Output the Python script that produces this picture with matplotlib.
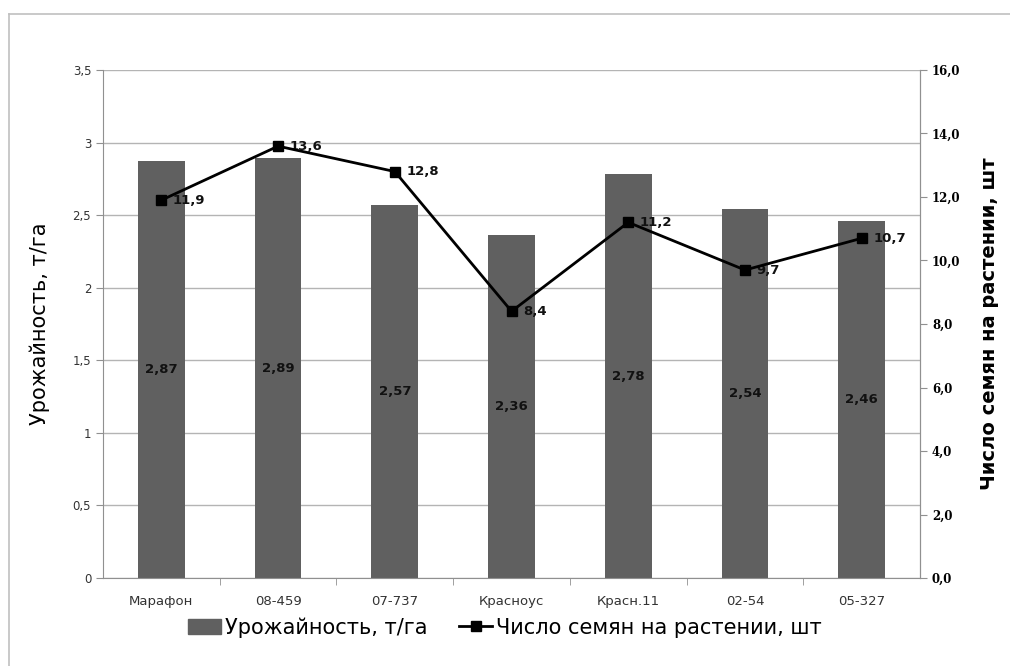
import matplotlib.pyplot as plt
from matplotlib.lines import Line2D
from matplotlib.patches import Patch

varieties = ["Марафон", "08-459", "07-737", "Красноус", "Красн.11", "02-54", "05-327"]
yield_t = [2.87, 2.89, 2.57, 2.36, 2.78, 2.54, 2.46]
seeds = [11.9, 13.6, 12.8, 8.4, 11.2, 9.7, 10.7]

plt.rcParams["font.family"] = ["DejaVu Sans"]

fig = plt.figure(figsize=(10.1, 6.66), dpi=100)
ax = fig.add_axes([0.102, 0.132, 0.809, 0.763])

# frame round the chart (only top and left visible in the picture)
fig.add_artist(Line2D([0.009, 1.0], [0.979, 0.979], color="#c0c0c0", lw=1.2, transform=fig.transFigure))
fig.add_artist(Line2D([0.009, 0.009], [0.0, 0.979], color="#c0c0c0", lw=1.2, transform=fig.transFigure))

x = list(range(len(varieties)))
bar_col = "#606060"
ax.bar(x, yield_t, width=0.4, color=bar_col, zorder=2)
for xi, v in zip(x, yield_t):
    ax.text(xi, v / 2, f"{v:.2f}".replace(".", ","), ha="center", va="center",
            fontsize=9.5, fontweight="bold", color="#111111", zorder=3)

ax.set_xlim(-0.5, len(varieties) - 0.5)
ax.set_ylim(0, 3.5)
ax.set_yticks([0, 0.5, 1, 1.5, 2, 2.5, 3, 3.5])
ax.set_yticklabels(["0", "0,5", "1", "1,5", "2", "2,5", "3", "3,5"], fontsize=8.5, color="#333333")
ax.yaxis.grid(True, color="#b4b4b4", lw=1)
ax.set_axisbelow(True)
ax.set_xticks(x)
ax.set_xticklabels(varieties, fontsize=9.5, color="#333333")
ax.set_xticks([i + 0.5 for i in x[:-1]], minor=True)
ax.tick_params(axis="x", which="major", length=0, pad=12)
ax.tick_params(axis="x", which="minor", length=5, color="#909090")
ax.tick_params(axis="y", length=5, color="#909090")
ax.spines["top"].set_visible(False)
for s in ["left", "bottom", "right"]:
    ax.spines[s].set_color("#909090")
ax.set_ylabel("Урожайность, т/га", fontsize=15, labelpad=16)

ax2 = ax.twinx()
ax2.plot(x, seeds, color="black", lw=2, marker="s", markersize=7, zorder=4)
for xi, v in zip(x, seeds):
    ax2.text(xi + 0.1, v, f"{v:.1f}".replace(".", ","), ha="left", va="center",
             fontsize=9.5, fontweight="bold", color="#111111")
ax2.set_ylim(0, 16)
ax2.set_yticks(range(0, 17, 2))
ax2.set_yticklabels([f"{t:.1f}".replace(".", ",") for t in range(0, 17, 2)],
                    fontsize=8.5, fontweight="bold", family="DejaVu Serif")
ax2.tick_params(axis="y", length=5, color="#909090")
ax2.spines["top"].set_visible(False)
ax2.spines["right"].set_color("#909090")
ax2.spines["left"].set_visible(False)
ax2.spines["bottom"].set_visible(False)
ax2.set_ylabel("Число семян на растении, шт", fontsize=14, fontweight="bold", labelpad=14)

handles = [Patch(color=bar_col),
           Line2D([0], [0], color="black", lw=2, marker="s", markersize=7)]
fig.legend(handles, ["Урожайность, т/га", "Число семян на растении, шт"],
           loc="center", bbox_to_anchor=(0.5, 0.058), ncol=2, frameon=False,
           fontsize=15, handlelength=1.6, handletextpad=0.2, columnspacing=1.5)

fig.savefig("out.png", dpi=100)
